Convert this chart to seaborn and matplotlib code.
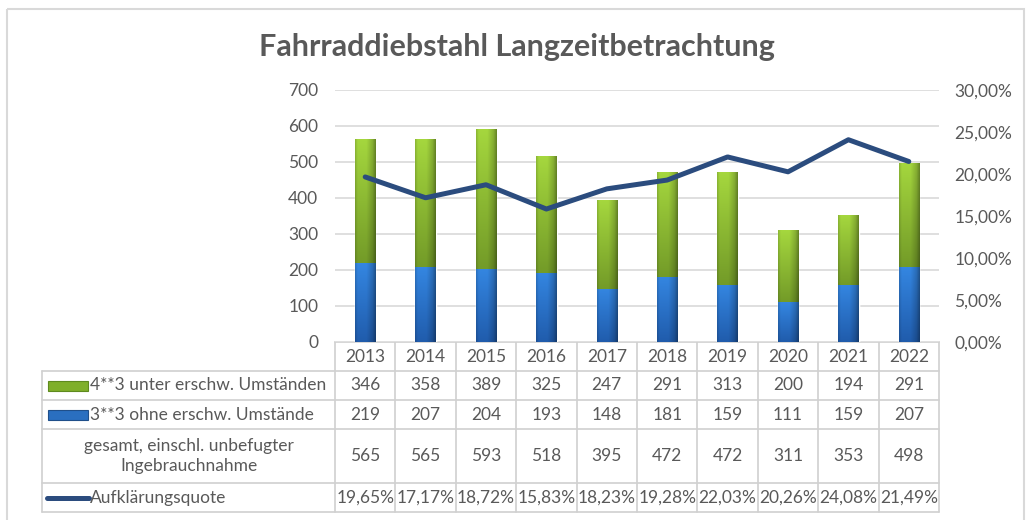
import numpy as np
import pandas as pd
import matplotlib
matplotlib.use('Agg')
import matplotlib.pyplot as plt
import seaborn as sns
from matplotlib.patches import Rectangle
from matplotlib.ticker import FuncFormatter

# Daten
years = ['2013', '2014', '2015', '2016', '2017', '2018', '2019', '2020', '2021', '2022']
erschwert = [346, 358, 389, 325, 247, 291, 313, 200, 194, 291]   # 4**3
ohne = [219, 207, 204, 193, 148, 181, 159, 111, 159, 207]        # 3**3
gesamt = [565, 565, 593, 518, 395, 472, 472, 311, 353, 498]
quote = [0.1965, 0.1717, 0.1872, 0.1583, 0.1823, 0.1928, 0.2203, 0.2026, 0.2408, 0.2149]

row_labels = ['4**3 unter erschw. Umständen',
              '3**3 ohne erschw. Umstände',
              'gesamt, einschl. unbefugter\nIngebrauchnahme',
              'Aufklärungsquote']
title = 'Fahrraddiebstahl Langzeitbetrachtung'

left_ticks = [0, 100, 200, 300, 400, 500, 600, 700]
right_ticks = [0, 0.05, 0.10, 0.15, 0.20, 0.25, 0.30]

GREY = '#595959'
GRID = '#D9D9D9'
NAVY = '#2B4C7E'
GREEN_TOP, GREEN_BOT = np.array([165, 215, 62]), np.array([115, 155, 40])
BLUE_TOP, BLUE_BOT = np.array([52, 134, 225]), np.array([32, 92, 172])
FS = 12.5

sns.set_theme(style='white')
plt.rcParams['font.family'] = ['Lato', 'DejaVu Sans']

def pct(v):
    return f'{v * 100:.2f}%'.replace('.', ',')

def shade_bars(ax, container, bottoms, top_rgb, bot_rgb):
    # Excel-artiger Verlauf auf jedem Balkensegment
    ny, nx = 64, 32
    t = np.linspace(0, 1, ny)[:, None, None]
    u = np.linspace(0, 1, nx)
    f = np.interp(u, [0, 0.12, 0.55, 0.85, 1], [0.85, 1.0, 1.0, 0.82, 0.62])[None, :, None]
    grad = (bot_rgb + (top_rgb - bot_rgb) * t) * f / 255.0
    grad = np.clip(grad, 0, 1)
    for patch, b in zip(container.patches, bottoms):
        x0 = patch.get_x()
        w = patch.get_width()
        y1 = patch.get_y() + patch.get_height()
        im = ax.imshow(grad, extent=[x0, x0 + w, b, y1], aspect='auto', origin='lower',
                       interpolation='bilinear', zorder=patch.get_zorder() + 0.1)
        im.set_clip_path(patch)

W, H = 1026, 520
fig = plt.figure(figsize=(W / 100, H / 100), dpi=100)

x_left, x_right, y_top, y_bot = 335, 939, 90, 342
ax = fig.add_axes([x_left / W, 1 - y_bot / H, (x_right - x_left) / W, (y_bot - y_top) / H])

df = pd.DataFrame({'Jahr': years, 'ohne': ohne, 'erschwert': erschwert, 'gesamt': gesamt})
df['stapel'] = df['ohne'] + df['erschwert']

sns.barplot(data=df, x='Jahr', y='stapel', color=tuple(GREEN_TOP / 255), width=0.34,
            saturation=1, ax=ax)
sns.barplot(data=df, x='Jahr', y='ohne', color=tuple(BLUE_TOP / 255), width=0.34,
            saturation=1, ax=ax)
shade_bars(ax, ax.containers[0], df['ohne'], GREEN_TOP, GREEN_BOT)
shade_bars(ax, ax.containers[1], [0] * len(years), BLUE_TOP, BLUE_BOT)

ax.set_xlim(-0.5, len(years) - 0.5)
ax.set_ylim(0, 700)
ax.set_yticks(left_ticks)
ax.yaxis.grid(True, color=GRID, lw=1.2)
ax.set_axisbelow(True)
ax.set_xlabel('')
ax.set_ylabel('')
ax.tick_params(axis='x', length=0, labelbottom=False)
ax.tick_params(axis='y', length=0, pad=12, labelsize=FS, labelcolor=GREY)
sns.despine(ax=ax, left=True, bottom=True)

ax2 = ax.twinx()
sns.lineplot(x=np.arange(len(years)), y=quote, ax=ax2, color=NAVY, lw=3.6,
             legend=False, solid_capstyle='round', solid_joinstyle='round')
ax2.set_xlim(-0.5, len(years) - 0.5)
ax2.set_ylim(0, 0.30)
ax2.set_yticks(right_ticks)
ax2.yaxis.set_major_formatter(FuncFormatter(lambda v, p: pct(v)))
ax2.tick_params(axis='y', length=0, pad=11, labelsize=FS, labelcolor=GREY)
ax2.set_ylabel('')
ax2.grid(False)
for s in ax2.spines.values():
    s.set_visible(False)

# Rahmen, Titel und Datentabelle in Pixelkoordinaten
ov = fig.add_axes([0, 0, 1, 1], zorder=-1)
ov.set_xlim(0, W)
ov.set_ylim(H, 0)
ov.axis('off')
ov.add_patch(Rectangle((7, 9), 1017, 520, fill=False, ec='#D9D9D9', lw=1.5))

fig.text(517 / W, 1 - 47 / H, title, ha='center', va='center', fontsize=22,
         fontweight='bold', color=GREY)

n = len(years)
col_w = (x_right - x_left) / n
col_edges = [x_left + i * col_w for i in range(n + 1)]
row_edges = [342, 371, 400, 429, 483, 512]
lab_left = 42
lc = '#D0D0D0'

ov.plot([x_left, x_right], [row_edges[0]] * 2, color=lc, lw=1.2)
for y in row_edges[1:]:
    ov.plot([lab_left, x_right], [y, y], color=lc, lw=1.2)
for x in col_edges:
    ov.plot([x, x], [row_edges[0], row_edges[-1]], color=lc, lw=1.2)
ov.plot([lab_left, lab_left], [row_edges[1], row_edges[-1]], color=lc, lw=1.2)

centers = [(col_edges[i] + col_edges[i + 1]) / 2 for i in range(n)]
rows = [years, erschwert, ohne, gesamt, [pct(q) for q in quote]]
for r, vals in enumerate(rows):
    yc = (row_edges[r] + row_edges[r + 1]) / 2
    for xc, v in zip(centers, vals):
        ov.text(xc, yc, str(v), ha='center', va='center', fontsize=FS, color=GREY)

# Zeilenbeschriftungen mit Legendensymbolen
for r, lab in enumerate(row_labels):
    yc = (row_edges[r + 1] + row_edges[r + 2]) / 2
    if r == 2:
        ov.text((lab_left + x_left) / 2, yc, lab, ha='center', va='center',
                fontsize=FS, color=GREY, linespacing=1.3)
    else:
        ov.text(90, yc, lab, ha='left', va='center', fontsize=FS, color=GREY)

ov.add_patch(Rectangle((48, (row_edges[1] + row_edges[2]) / 2 - 5), 40, 10,
                       fc='#7FAF2A', ec='#5E8A1E', lw=0.8))
ov.add_patch(Rectangle((48, (row_edges[2] + row_edges[3]) / 2 - 5), 40, 10,
                       fc='#2A6FC0', ec='#1F4F8A', lw=0.8))
y4 = (row_edges[4] + row_edges[5]) / 2
ov.plot([47, 89], [y4, y4], color=NAVY, lw=3.6, solid_capstyle='round')

fig.savefig('out.png', dpi=100)
